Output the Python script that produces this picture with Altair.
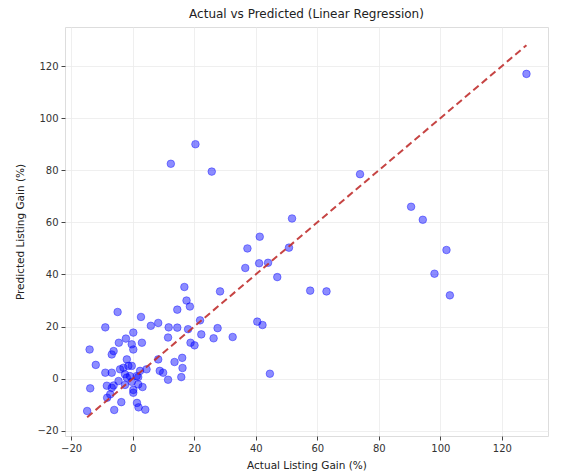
import altair as alt
import pandas as pd

actual = [128, 73.9, 90.5, 94.3, 102, 98.1, 103.1, 51.8, 41.3, 37.3, 50.8, 41.1, 44, 36.6, 47,
          57.7, 63, 40.5, 42.2, 44.6, 20.4, 12.4, 25.7, 28.4, 16.8, 17.5, 18.6, 14.5, -4.9, 2.7,
          -8.9, 5.9, 8.3, 11.7, 14.5, 18, 21.9, 27.6, 0.2, -2.2, -4.5, 11.5, 3.0, -0.3, 26.3,
          32.5, 18.8, 20.1, 22.3, -14, -6.2, -6.8, 0.2, -12.0, -1.9, 8.3, 16.1, 13.6, 16.2,
          -8.9, -6.8, -4.1, -3.0, -1.4, -0.3, -2.5, -0.9, 1.3, 2.4, 4.5, 8.8, 9.9, 15.8, 11.5,
          -1.9, 1.8, -4.6, -0.3, -13.8, -8.4, -6.2, -2.5, 1.8, 3.2, -6.8, 0.2, 0.2, -7.3, -8.3,
          -3.7, 1.4, 1.9, 4.1, -6.0, -14.8]
predicted = [117, 78.5, 66, 61, 49.4, 40.3, 32, 61.5, 54.5, 50, 50.3, 44.3, 44.5, 42.5, 39,
             33.8, 33.5, 21.9, 20.6, 1.9, 90, 82.5, 79.5, 33.5, 35.2, 30, 27.7, 26.5, 25.6, 23.7,
             19.7, 20.3, 21.4, 19.7, 19.6, 19, 22.4, 19.4, 17.7, 15.4, 13.8, 15.8, 13.8, 13.2, 15.5,
             16, 13.8, 12.8, 17.0, 11.2, 10.6, 9.3, 11.2, 5.3, 7.4, 7.4, 8.0, 6.4, 4.1,
             2.3, 2.3, 3.6, 4.2, 4.9, 4.9, 1.7, 1.0, 1.0, 3.0, 3.6, 3.0, 2.3, 0.6, -0.4,
             0.4, 0.6, -0.9, -1.2, -3.7, -2.7, -2.6, -2.4, -2.2, -3.2, -3.5, -4.3, -5.4, -6.0, -7.3,
             -9.0, -9.3, -11.0, -11.9, -12.0, -12.4]

tick_values = [-20, 0, 20, 40, 60, 80, 100, 120]
domain = [-22, 135]

df = pd.DataFrame({"actual": actual, "predicted": predicted})
line_df = pd.DataFrame({"x": [min(actual), max(actual)], "y": [min(actual), max(actual)]})

FONT = "DejaVu Sans"

common = dict(values=tick_values, grid=True, gridColor="#ebebeb", gridWidth=0.8, domain=False,
              tickColor="#444", tickSize=4, labelFontSize=10, labelColor="#333",
              titleFontSize=10.5, titleFontWeight="normal", titleColor="#222",
              labelFont=FONT, titleFont=FONT, labelPadding=3)
xaxis = alt.Axis(title="Actual Listing Gain (%)", titlePadding=7, **common)
yaxis = alt.Axis(title="Predicted Listing Gain (%)", titlePadding=11, **common)

points = alt.Chart(df).mark_point(
    filled=True, shape="circle", size=58, color="blue", fillOpacity=0.45,
    stroke="blue", strokeOpacity=0.4, strokeWidth=1
).encode(
    x=alt.X("actual:Q", scale=alt.Scale(domain=domain, nice=False, zero=False), axis=xaxis),
    y=alt.Y("predicted:Q", scale=alt.Scale(domain=domain, nice=False, zero=False), axis=yaxis),
)

line = alt.Chart(line_df).mark_line(
    color="#c0302f", strokeWidth=2, strokeDash=[7, 4], opacity=0.9
).encode(x="x:Q", y="y:Q")

chart = alt.layer(points, line).properties(
    width=483, height=409,
    autosize=alt.AutoSizeParams(type="none"),
    padding={"left": 65, "top": 27, "right": 14, "bottom": 40},
    title=alt.TitleParams("Actual vs Predicted (Linear Regression)", fontSize=12,
                          fontWeight="normal", font=FONT, color="#222", anchor="middle",
                          offset=6),
).configure_view(stroke="#555", strokeWidth=1.2).configure(background="white")

chart.save("out.html", embed_options={"renderer": "svg", "actions": False})
